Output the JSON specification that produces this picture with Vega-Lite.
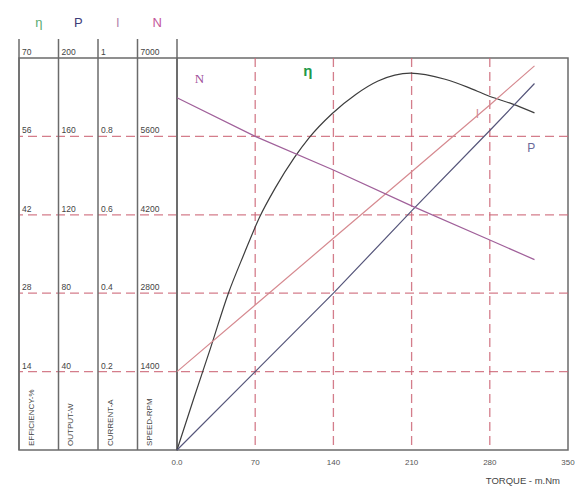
{
  "$schema": "https://vega.github.io/schema/vega-lite/v6.json",
  "autosize": {"type": "pad"},
  "padding": {"left": 17, "top": 16, "right": 0, "bottom": 0},
  "background": "white",
  "bounds": "flush",
  "spacing": 0,
  "config": {
    "view": {"stroke": "#6b6b6b", "strokeWidth": 1.5},
    "font": "Liberation Sans",
    "text": {"font": "Liberation Sans"}
  },
  "datasets": {
    "cols": [
      {"col": "η", "name": "EFFICIENCY-%"},
      {"col": "P", "name": "OUTPUT-W"},
      {"col": "I", "name": "CURRENT-A"},
      {"col": "N", "name": "SPEED-RPM"}
    ],
    "ticks": [
      {"col": "η", "level": 14, "label": "14"},
      {"col": "η", "level": 28, "label": "28"},
      {"col": "η", "level": 42, "label": "42"},
      {"col": "η", "level": 56, "label": "56"},
      {"col": "η", "level": 70, "label": "70"},
      {"col": "P", "level": 14, "label": "40"},
      {"col": "P", "level": 28, "label": "80"},
      {"col": "P", "level": 42, "label": "120"},
      {"col": "P", "level": 56, "label": "160"},
      {"col": "P", "level": 70, "label": "200"},
      {"col": "I", "level": 14, "label": "0.2"},
      {"col": "I", "level": 28, "label": "0.4"},
      {"col": "I", "level": 42, "label": "0.6"},
      {"col": "I", "level": 56, "label": "0.8"},
      {"col": "I", "level": 70, "label": "1"},
      {"col": "N", "level": 14, "label": "1400"},
      {"col": "N", "level": 28, "label": "2800"},
      {"col": "N", "level": 42, "label": "4200"},
      {"col": "N", "level": 56, "label": "5600"},
      {"col": "N", "level": 70, "label": "7000"}
    ],
    "torqueTicks": [
      {"torque": 0, "label": "0.0"},
      {"torque": 70, "label": "70"},
      {"torque": 140, "label": "140"},
      {"torque": 210, "label": "210"},
      {"torque": 280, "label": "280"},
      {"torque": 350, "label": "350"}
    ],
    "perf": [
      {"series": "η", "torque": 0, "value": 0},
      {"series": "η", "torque": 15, "value": 9.2},
      {"series": "η", "torque": 30, "value": 18.2},
      {"series": "η", "torque": 46, "value": 28},
      {"series": "η", "torque": 60, "value": 35},
      {"series": "η", "torque": 74, "value": 41.6},
      {"series": "η", "torque": 88, "value": 46.8},
      {"series": "η", "torque": 105, "value": 52.2},
      {"series": "η", "torque": 118, "value": 55.7},
      {"series": "η", "torque": 139, "value": 60.1},
      {"series": "η", "torque": 160, "value": 63.5},
      {"series": "η", "torque": 180, "value": 65.9},
      {"series": "η", "torque": 209, "value": 67.3},
      {"series": "η", "torque": 240, "value": 66.2},
      {"series": "η", "torque": 260, "value": 64.8},
      {"series": "η", "torque": 278, "value": 63.3},
      {"series": "η", "torque": 300, "value": 61.8},
      {"series": "η", "torque": 320, "value": 60.2},
      {"series": "P", "torque": 0, "value": 0},
      {"series": "P", "torque": 70, "value": 40},
      {"series": "P", "torque": 140, "value": 80},
      {"series": "P", "torque": 210, "value": 122},
      {"series": "P", "torque": 280, "value": 163},
      {"series": "P", "torque": 320, "value": 187},
      {"series": "I", "torque": 0, "value": 0.2},
      {"series": "I", "torque": 70, "value": 0.37},
      {"series": "I", "torque": 140, "value": 0.54},
      {"series": "I", "torque": 210, "value": 0.71},
      {"series": "I", "torque": 280, "value": 0.88},
      {"series": "I", "torque": 320, "value": 0.98},
      {"series": "N", "torque": 0, "value": 6290},
      {"series": "N", "torque": 70, "value": 5600},
      {"series": "N", "torque": 140, "value": 5000},
      {"series": "N", "torque": 210, "value": 4360},
      {"series": "N", "torque": 280, "value": 3750},
      {"series": "N", "torque": 320, "value": 3400}
    ]
  },
  "hconcat": [
    {
      "width": 158,
      "height": 392,
      "layer": [
        {
          "data": {"name": "ticks"},
          "transform": [{"filter": "datum.col === 'η' && datum.level < 70"}],
          "mark": {"type": "rule", "color": "#cc6677", "strokeDash": [9, 5], "strokeWidth": 1.3, "opacity": 0.85},
          "encoding": {
            "y": {"field": "level", "type": "quantitative", "scale": {"domain": [0, 70], "nice": false}, "axis": null}
          }
        },
        {
          "data": {"name": "cols"},
          "mark": {"type": "rule", "color": "#6b6b6b", "strokeWidth": 1.5},
          "encoding": {
            "x": {"field": "col", "type": "nominal", "bandPosition": 0, "scale": {"type": "band", "domain": ["η", "P", "I", "N"], "paddingInner": 0, "paddingOuter": 0}, "axis": null},
            "y": {"datum": 0, "type": "quantitative", "scale": {"domain": [0, 70], "nice": false}, "axis": null},
            "y2": {"datum": 73.4}
          }
        },
        {
          "data": {"name": "cols"},
          "transform": [{"filter": "datum.col === 'N'"}],
          "mark": {"type": "rule", "color": "#6b6b6b", "strokeWidth": 1.5},
          "encoding": {
            "x": {"field": "col", "type": "nominal", "bandPosition": 1, "scale": {"type": "band", "domain": ["η", "P", "I", "N"], "paddingInner": 0, "paddingOuter": 0}, "axis": null},
            "y": {"datum": 0, "type": "quantitative", "scale": {"domain": [0, 70], "nice": false}, "axis": null},
            "y2": {"datum": 73.4}
          }
        },
        {
          "data": {"name": "ticks"},
          "mark": {"type": "text", "align": "left", "baseline": "alphabetic", "dx": 3, "dy": -3, "fontSize": 8.5, "color": "#444444"},
          "encoding": {
            "x": {"field": "col", "type": "nominal", "bandPosition": 0, "scale": {"type": "band", "domain": ["η", "P", "I", "N"], "paddingInner": 0, "paddingOuter": 0}, "axis": null},
            "y": {"field": "level", "type": "quantitative", "scale": {"domain": [0, 70], "nice": false}, "axis": null},
            "text": {"field": "label"}
          }
        },
        {
          "data": {"name": "cols"},
          "mark": {"type": "text", "align": "center", "baseline": "middle", "fontSize": 13},
          "encoding": {
            "x": {"field": "col", "type": "nominal", "scale": {"type": "band", "domain": ["η", "P", "I", "N"], "paddingInner": 0, "paddingOuter": 0}, "axis": null},
            "y": {"datum": 76.2, "type": "quantitative", "scale": {"domain": [0, 70], "nice": false}, "axis": null},
            "text": {"field": "col"},
            "color": {"field": "col", "type": "nominal", "scale": {"domain": ["η", "P", "I", "N"], "range": ["#5aab72", "#3c3c78", "#b585ad", "#c4569a"]}, "legend": null}
          }
        },
        {
          "data": {"name": "cols"},
          "mark": {"type": "text", "align": "left", "baseline": "middle", "angle": 270, "dx": 4, "fontSize": 8, "color": "#444444"},
          "encoding": {
            "x": {"field": "col", "type": "nominal", "bandPosition": 0.32, "scale": {"type": "band", "domain": ["η", "P", "I", "N"], "paddingInner": 0, "paddingOuter": 0}, "axis": null},
            "y": {"datum": 0, "type": "quantitative", "scale": {"domain": [0, 70], "nice": false}, "axis": null},
            "text": {"field": "name"}
          }
        }
      ]
    },
    {
      "width": 391,
      "height": 392,
      "layer": [
        {
          "layer": [
            {
              "data": {"name": "ticks"},
              "transform": [{"filter": "datum.col === 'η' && datum.level < 70"}],
              "mark": {"type": "rule", "color": "#cc6677", "strokeDash": [9, 5], "strokeWidth": 1.3, "opacity": 0.85},
              "encoding": {
                "y": {"field": "level", "type": "quantitative", "scale": {"domain": [0, 70], "nice": false}, "axis": null}
              }
            },
            {
              "data": {"name": "torqueTicks"},
              "transform": [{"filter": "datum.torque > 0 && datum.torque < 350"}],
              "mark": {"type": "rule", "color": "#cc6677", "strokeDash": [9, 5], "strokeWidth": 1.3, "opacity": 0.85},
              "encoding": {
                "x": {"field": "torque", "type": "quantitative", "scale": {"domain": [0, 350], "nice": false}, "axis": null}
              }
            },
            {
              "data": {"name": "torqueTicks"},
              "mark": {"type": "text", "align": "center", "baseline": "middle", "dy": 13, "fontSize": 8, "color": "#555555"},
              "encoding": {
                "x": {"field": "torque", "type": "quantitative", "axis": null},
                "y": {"datum": 0, "type": "quantitative", "scale": {"domain": [0, 70], "nice": false}, "axis": null},
                "text": {"field": "label"}
              }
            },
            {
              "data": {"values": [{}]},
              "mark": {"type": "text", "text": "TORQUE - m.Nm", "align": "right", "baseline": "middle", "dx": -8, "dy": 31, "fontSize": 9.5, "color": "#444444"},
              "encoding": {
                "x": {"datum": 350, "type": "quantitative", "axis": null},
                "y": {"datum": 0, "type": "quantitative", "scale": {"domain": [0, 70], "nice": false}, "axis": null}
              }
            },
            {
              "data": {"name": "perf"},
              "transform": [{"filter": "datum.series === 'η'"}],
              "mark": {"type": "line", "color": "#3d3d3d", "strokeWidth": 1.2, "interpolate": "monotone"},
              "encoding": {
                "x": {"field": "torque", "type": "quantitative", "axis": null},
                "y": {"field": "value", "type": "quantitative", "scale": {"domain": [0, 70], "nice": false}, "axis": null}
              }
            },
            {
              "data": {"values": [{}]},
              "mark": {"type": "text", "text": "N", "font": "Liberation Serif", "fontSize": 13, "color": "#a0509a", "baseline": "middle", "align": "center"},
              "encoding": {
                "x": {"datum": 20, "type": "quantitative", "axis": null},
                "y": {"datum": 66.3, "type": "quantitative", "scale": {"domain": [0, 70], "nice": false}, "axis": null}
              }
            },
            {
              "data": {"values": [{}]},
              "mark": {"type": "text", "text": "η", "fontSize": 15, "fontWeight": "bold", "color": "#1f9a4a", "baseline": "middle", "align": "center"},
              "encoding": {
                "x": {"datum": 117, "type": "quantitative", "axis": null},
                "y": {"datum": 67.6, "type": "quantitative", "scale": {"domain": [0, 70], "nice": false}, "axis": null}
              }
            },
            {
              "data": {"values": [{}]},
              "mark": {"type": "text", "text": "I", "fontSize": 12, "color": "#d08a96", "baseline": "middle", "align": "center"},
              "encoding": {
                "x": {"datum": 269, "type": "quantitative", "axis": null},
                "y": {"datum": 60, "type": "quantitative", "scale": {"domain": [0, 70], "nice": false}, "axis": null}
              }
            },
            {
              "data": {"values": [{}]},
              "mark": {"type": "text", "text": "P", "fontSize": 12, "color": "#6a6a9a", "baseline": "middle", "align": "center"},
              "encoding": {
                "x": {"datum": 317, "type": "quantitative", "axis": null},
                "y": {"datum": 54, "type": "quantitative", "scale": {"domain": [0, 70], "nice": false}, "axis": null}
              }
            }
          ]
        },
        {
          "data": {"name": "perf"},
          "transform": [{"filter": "datum.series === 'P'"}],
          "mark": {"type": "line", "color": "#55557a", "strokeWidth": 1.2},
          "encoding": {
            "x": {"field": "torque", "type": "quantitative", "axis": null},
            "y": {"field": "value", "type": "quantitative", "scale": {"domain": [0, 200], "nice": false}, "axis": null}
          }
        },
        {
          "data": {"name": "perf"},
          "transform": [{"filter": "datum.series === 'I'"}],
          "mark": {"type": "line", "color": "#d68a90", "strokeWidth": 1.2},
          "encoding": {
            "x": {"field": "torque", "type": "quantitative", "axis": null},
            "y": {"field": "value", "type": "quantitative", "scale": {"domain": [0, 1], "nice": false, "zero": false}, "axis": null}
          }
        },
        {
          "data": {"name": "perf"},
          "transform": [{"filter": "datum.series === 'N'"}],
          "mark": {"type": "line", "color": "#a0609a", "strokeWidth": 1.2},
          "encoding": {
            "x": {"field": "torque", "type": "quantitative", "axis": null},
            "y": {"field": "value", "type": "quantitative", "scale": {"domain": [0, 7000], "nice": false}, "axis": null}
          }
        }
      ],
      "resolve": {"scale": {"y": "independent"}}
    }
  ]
}
